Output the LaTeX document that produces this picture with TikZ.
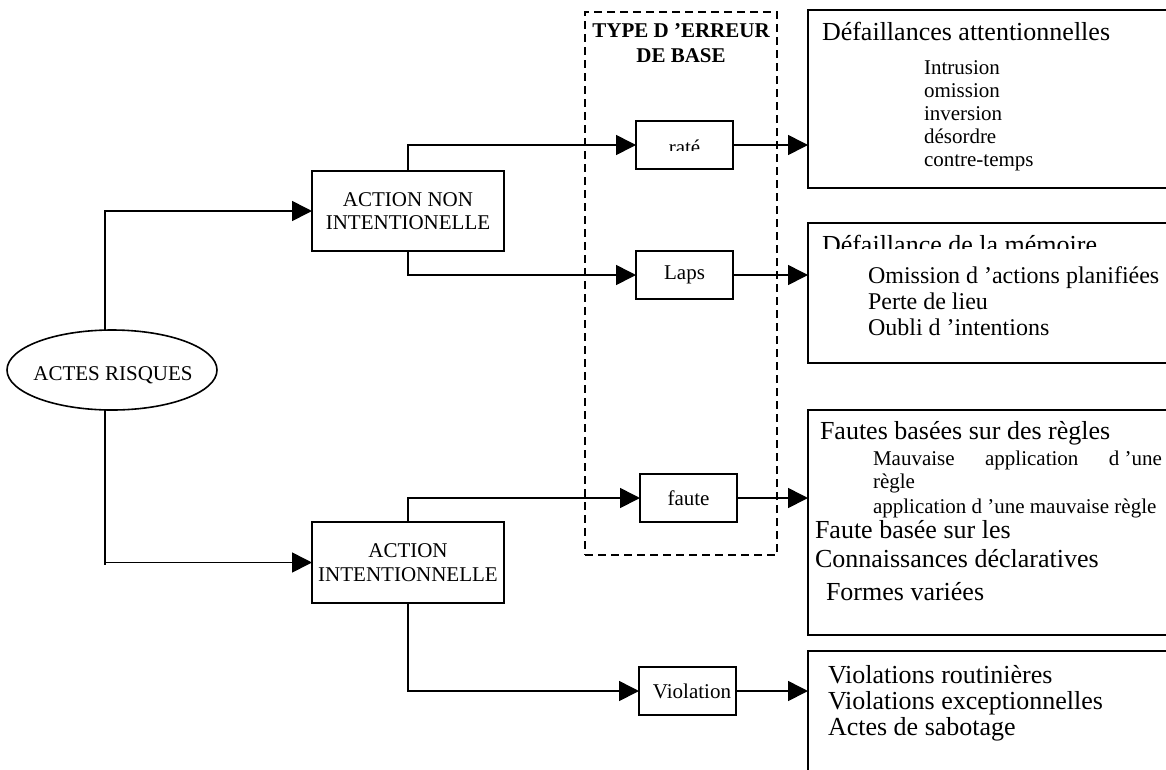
\documentclass[tikz,border=0pt]{standalone}
\usepackage{fontspec}
\setmainfont{Liberation Serif}
\usetikzlibrary{arrows.meta,shapes.geometric,calc}

\begin{document}
\begin{tikzpicture}[x=1pt,y=-1pt,
  every node/.style={inner sep=0pt, outer sep=0pt},
  wire/.style={line width=1.6pt},
  arr/.style={wire,-{Triangle[length=20pt,width=20pt]}},
  box/.style={draw,line width=1.6pt,rectangle},
  typebox/.style={box,minimum width=97pt,minimum height=48pt},
  sidebox/.style={box,anchor=north west,minimum width=420pt},
  small/.style={font=\fontsize{21}{23.5}\selectfont},
  mid/.style={font=\fontsize{24}{26}\selectfont},
  big/.style={font=\fontsize{26}{28}\selectfont},
  item/.style={anchor=base west}
]
\useasboundingbox (0,0) rectangle (1166,769);
\fill[white] (0,0) rectangle (1166,769);

% root
\node[box, ellipse, minimum width=210pt, minimum height=80pt] (act) at (112,370) {};
\node[small] (actlbl) at (113,375) {ACTES RISQUES};

% first level
\node[box, minimum width=192pt, minimum height=80pt, small, align=center] (ani) at (408,211) {ACTION NON\\INTENTIONELLE};
\node[box, minimum width=192pt, minimum height=81pt, small, align=center] (aint) at (408,562.5) {ACTION\\INTENTIONNELLE};

% frame of the basic error types
\node[draw, dash pattern=on 8pt off 5pt, line width=1.6pt, anchor=north west,
      minimum width=192pt, minimum height=543pt] (typ) at (585,12) {};
\node[font=\fontsize{21}{25}\selectfont\bfseries, align=center, anchor=north] (typlbl) at (681,24) {TYPE D ’ERREUR\\DE BASE};

% basic error types
\node[typebox] (rate) at (684.5,145) {};
\begin{scope}
  \clip (636,121) rectangle (733,150);
  \node[small, anchor=base] (ratelbl) at (684.5,154) {raté};
\end{scope}
\node[typebox, small] (laps) at (684.5,275) {Laps};
\node[typebox, small] (faute) at (688.5,498) {faute};
\node[typebox, small] (viol) at (687.5,691) {\hspace{9pt}Violation};

% detail boxes
\node[sidebox, minimum height=178pt] (att) at (808,10) {};
\node[sidebox, minimum height=140pt] (mem) at (808,223) {};
\node[sidebox, minimum height=225pt] (flt) at (808,410) {};
\node[sidebox, minimum height=170pt] (vio) at (808,651) {};

% attention failures
\node[big, item] (t1) at (822,40) {Défaillances attentionnelles};
\node[small, item] (t1a) at (924,74) {Intrusion};
\node[small, item] (t1b) at (924,97) {omission};
\node[small, item] (t1c) at (924,120) {inversion};
\node[small, item] (t1d) at (924,143) {désordre};
\node[small, item] (t1e) at (924,166) {contre-temps};

% memory failures
\begin{scope}
  \clip (809,224) rectangle (1166,248);
  \node[big, item] (t2) at (822,253) {Défaillance de la mémoire};
\end{scope}
\node[mid, item] (t2a) at (868,283) {Omission d ’actions planifiées};
\node[mid, item] (t2b) at (868,309) {Perte de lieu};
\node[mid, item] (t2c) at (868,335) {Oubli d ’intentions};

% mistakes
\node[big, item] (t3) at (820,439) {Fautes basées sur des règles};
\node[small, item] (t3a) at (873,465) {\makebox[289pt][s]{Mauvaise application d\hspace{0.25em}’une}};
\node[small, item] (t3b) at (873,488) {règle};
\node[small, item] (t3c) at (873,513) {application d ’une mauvaise règle};
\node[big, item] (t3d) at (815,538) {Faute basée sur les};
\node[big, item] (t3e) at (815,567) {Connaissances déclaratives};
\node[big, item] (t3f) at (826,600) {Formes variées};

% violations
\node[big, item] (t4a) at (828,683) {Violations routinières};
\node[big, item] (t4b) at (828,709) {Violations exceptionnelles};
\node[big, item] (t4c) at (828,735) {Actes de sabotage};

% connectors
\draw[arr] ($(act.north)+(-7,0)$) |- (ani.west);
\draw[wire] ($(act.south)+(-7,0)$) -- ++(0,155);
\draw[arr] ($(act.south)+(-7,0)$) |- (aint.west);
\draw[arr] (ani.north) |- (rate.west);
\draw[arr] (ani.south) |- (laps.west);
\draw[arr] (aint.north) |- (faute.west);
\draw[arr] (aint.south) |- (viol.west);
\draw[arr] (rate.east) -- (rate.east -| att.west);
\draw[arr] (laps.east) -- (laps.east -| mem.west);
\draw[arr] (faute.east) -- (faute.east -| flt.west);
\draw[arr] (viol.east) -- (viol.east -| vio.west);
\end{tikzpicture}
\end{document}
